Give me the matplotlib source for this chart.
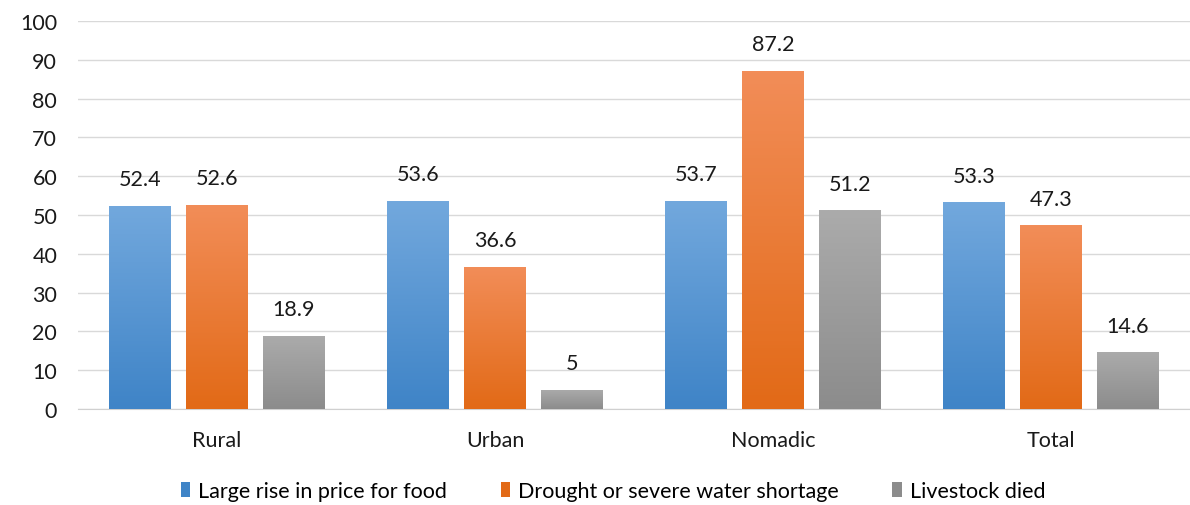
import numpy as np
import matplotlib.pyplot as plt
from matplotlib.colors import LinearSegmentedColormap

categories = ['Rural', 'Urban', 'Nomadic', 'Total']
series = ['Large rise in price for food', 'Drought or severe water shortage', 'Livestock died']
food = [52.4, 53.6, 53.7, 53.3]
drought = [52.6, 36.6, 87.2, 47.3]
livestock = [18.9, 5, 51.2, 14.6]
labels = [['52.4', '53.6', '53.7', '53.3'],
          ['52.6', '36.6', '87.2', '47.3'],
          ['18.9', '5', '51.2', '14.6']]

plt.rcParams['font.family'] = ['Lato', 'DejaVu Sans']

# top / bottom colours of each gradient
grads = [('#72a8dd', '#3f84c7'), ('#f28d58', '#e26a17'), ('#ababab', '#8c8c8c')]

fig = plt.figure(figsize=(11.9, 5.06), dpi=100)
ax = fig.add_axes([78 / 1190, 1 - 410 / 506, 1112 / 1190, 388 / 506])

x = np.arange(len(categories))
width = 0.223
step = 0.277
fs = 15.5
for i, (vals, (top, bot)) in enumerate(zip([food, drought, livestock], grads)):
    pos = x + (i - 1) * step
    bars = ax.bar(pos, vals, width, color=bot, label=series[i], zorder=2)
    cmap = LinearSegmentedColormap.from_list('g%d' % i, [bot, top])
    for b, v, lab in zip(bars, vals, labels[i]):
        grad = np.linspace(0, 1, 100).reshape(-1, 1)
        im = ax.imshow(grad, cmap=cmap, aspect='auto', origin='lower',
                       extent=[b.get_x(), b.get_x() + width, 0, v], zorder=3)
        im.set_clip_path(b)
        ax.text(b.get_x() + width / 2, v + 4.3, lab, ha='center', va='bottom',
                fontsize=fs, color='#1a1a1a')

ax.set_xlim(-0.5, 3.5)
ax.set_ylim(0, 100)
ax.set_yticks(range(0, 101, 10))
ax.set_xticks(x)
ax.set_xticklabels(categories)
ax.tick_params(length=0, labelsize=fs, colors='#1a1a1a')
ax.tick_params(axis='x', pad=15)
ax.tick_params(axis='y', pad=15)
ax.grid(axis='y', color='#d9d9d9', linewidth=1, zorder=0)
ax.set_axisbelow(True)
for s in ['top', 'right', 'left']:
    ax.spines[s].set_visible(False)
ax.spines['bottom'].set_color('#d0d0d0')

ax.legend(loc='center', bbox_to_anchor=(613 / 1190, 1 - 492 / 506),
          bbox_transform=fig.transFigure, ncol=3, frameon=False,
          fontsize=fs, handlelength=0.45, handleheight=0.65, handletextpad=0.35,
          columnspacing=2.5)

fig.savefig('out.png', dpi=100)
